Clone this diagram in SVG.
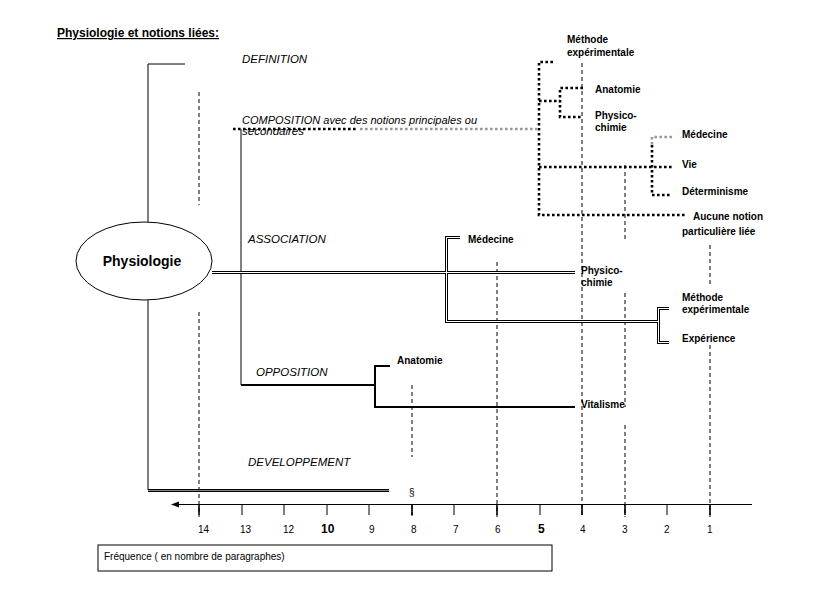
<svg xmlns="http://www.w3.org/2000/svg" width="840" height="593" viewBox="0 0 840 593">
<style>
text{font-family:"Liberation Sans",Arial,sans-serif;fill:#000}
.t{font-size:12px;font-weight:bold;text-decoration:underline}
.cat{font-size:11.5px;font-style:italic}
.lab{font-size:10px;font-weight:bold}
.num{font-size:10px}
.numb{font-size:12px;font-weight:bold}
.ln{fill:none;stroke:#000;stroke-width:1}
.thick{fill:none;stroke:#000;stroke-width:2}
.dash{fill:none;stroke:#000;stroke-width:1;stroke-dasharray:4 3}
.dot{fill:none;stroke:#000;stroke-width:2.6;stroke-dasharray:2.6 2.4}
.dotg{fill:none;stroke:#999;stroke-width:2.6;stroke-dasharray:2.6 2.4}
.dblb{fill:none;stroke:#000;stroke-width:3;shape-rendering:crispEdges}
.dblw{fill:none;stroke:#fff;stroke-width:1;shape-rendering:crispEdges}
.dblg{fill:none;stroke:#888;stroke-width:1;shape-rendering:crispEdges}
</style>
<rect width="840" height="593" fill="#fff"/>
<text class="t" x="57" y="37">Physiologie et notions liées:</text>

<g id="guides">
<path class="dash" d="M199,92 V205 M199,312 V517"/>
<path class="dash" d="M412,385 V457 M412,505 V517"/>
<path class="dash" d="M497,262 V517"/>
<path class="dash" d="M582,63 V517"/>
<path class="dash" d="M625,165 V242 M625,293 V407 M625,425 V517"/>
<path class="dash" d="M710,245 V287 M710,345 V517"/>
</g>

<g id="connectors">
<path class="ln" d="M185,64 H148 V222"/>
<path class="ln" d="M148,300 V490"/>
<path class="dblb" d="M148,490.5 H389"/>
<path class="dblg" d="M148,490.5 H389"/>
<path class="ln" d="M241,129 V385"/>
<path class="thick" d="M241,385 H375"/>
<path class="thick" d="M390,366 H375 V407 H575"/>
<path class="dblb" d="M212,272.5 H575"/>
<path class="dblb" d="M460,237.5 H446.5 V321.5 H658.5"/>
<path class="dblb" d="M669,308.5 H658.5 V342.5 H669"/>
<path class="dblw" d="M212,272.5 H575"/>
<path class="dblw" d="M460,237.5 H446.5 V321.5 H658.5"/>
<path class="dblw" d="M669,308.5 H658.5 V342.5 H669"/>
<path class="dot" d="M233,129 H357"/>
<path class="dotg" d="M360,129 H537"/>
<path class="dot" d="M553,62 H539 V215 H686"/>
<path class="dot" d="M539,101 H560"/>
<path class="dot" d="M583,88 H560 V117 H583"/>
<path class="dot" d="M539,167 H672"/>
<path class="dot" d="M652,145 V195 H672"/>
<path class="dotg" d="M672,137 H652 V146"/>
<path class="ln" d="M752,504.5 H178"/>
<polygon points="171,504.5 179,501.5 179,507.5" fill="#000"/>
<path class="ln" d="M242,504 V515 M284,504 V515 M327,504 V515 M369,504 V515 M454,504 V515 M540,504 V515 M667,504 V515"/>
<path fill="none" stroke="#000" stroke-width="1.6" d="M199,504 V515 M412,504 V515 M497,504 V515 M582,504 V515 M625,504 V515 M710,504 V515"/>
</g>

<g id="physiologie">
<ellipse cx="144" cy="261" rx="68" ry="39" fill="#fff" stroke="#000" stroke-width="1"/>
<text x="142" y="266" font-size="14" font-weight="bold" text-anchor="middle">Physiologie</text>
</g>

<g id="categories">
<text class="cat" x="242" y="63">DEFINITION</text>
<text class="cat" x="242" y="124" font-size="10" textLength="235" lengthAdjust="spacingAndGlyphs">COMPOSITION avec des notions principales ou</text>
<text class="cat" x="242" y="135" font-size="10">secondaires</text>
<text class="cat" x="248" y="243">ASSOCIATION</text>
<text class="cat" x="256" y="376">OPPOSITION</text>
<text class="cat" x="248" y="466">DEVELOPPEMENT</text>
</g>

<g id="composition-notions">
<text class="lab" x="567" y="43">Méthode</text>
<text class="lab" x="567" y="56">expérimentale</text>
<text class="lab" x="595" y="93">Anatomie</text>
<text class="lab" x="595" y="119">Physico-</text>
<text class="lab" x="595" y="131">chimie</text>
<text class="lab" x="682" y="138">Médecine</text>
<text class="lab" x="682" y="168">Vie</text>
<text class="lab" x="682" y="195">Déterminisme</text>
<text class="lab" x="693" y="220">Aucune notion</text>
<text class="lab" x="682" y="235">particulière liée</text>
</g>

<g id="association-notions">
<text class="lab" x="468" y="243">Médecine</text>
<text class="lab" x="581" y="274">Physico-</text>
<text class="lab" x="581" y="286">chimie</text>
<text class="lab" x="682" y="301">Méthode</text>
<text class="lab" x="682" y="313">expérimentale</text>
<text class="lab" x="682" y="342">Expérience</text>
</g>

<g id="opposition-notions">
<text class="lab" x="397" y="364">Anatomie</text>
<text class="lab" x="581" y="408">Vitalisme</text>
</g>

<g id="developpement">
<text x="409" y="496" font-size="10">§</text>
</g>

<g id="axis-labels">
<text class="num" x="198" y="533">14</text>
<text class="num" x="240" y="533">13</text>
<text class="num" x="283" y="533">12</text>
<text class="numb" x="321" y="533">10</text>
<text class="num" x="369" y="533">9</text>
<text class="num" x="411" y="533">8</text>
<text class="num" x="453" y="533">7</text>
<text class="num" x="495" y="533">6</text>
<text class="numb" x="538" y="533">5</text>
<text class="num" x="580" y="533">4</text>
<text class="num" x="622" y="533">3</text>
<text class="num" x="664" y="533">2</text>
<text class="num" x="707" y="533">1</text>
</g>

<g id="legend">
<rect x="98" y="545" width="454" height="26" fill="#fff" stroke="#000" stroke-width="1"/>
<text x="104" y="560" font-size="10">Fréquence ( en nombre de paragraphes)</text>
</g>
</svg>
